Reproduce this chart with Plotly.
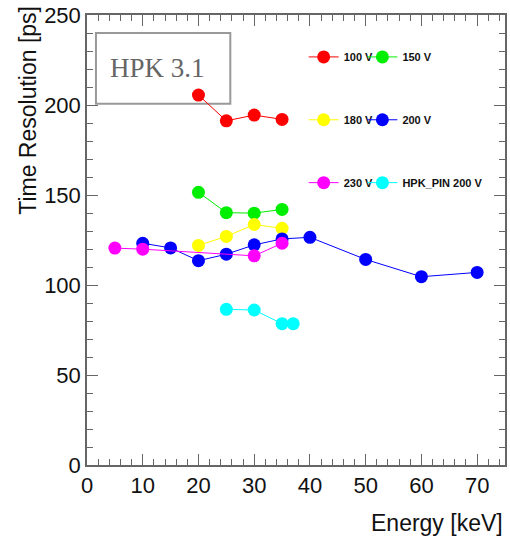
import plotly.graph_objects as go

# ---- data ----
e_100 = [20, 25, 30, 35]
t_100 = [205.5, 191.2, 194.4, 192.0]
e_150 = [20, 25, 30, 35]
t_150 = [151.5, 140.2, 139.9, 142.0]
e_180 = [20, 25, 30, 35]
t_180 = [122.0, 127.0, 133.6, 131.5]
e_200 = [10, 15, 20, 25, 30, 35, 40, 50, 60, 70]
t_200 = [123.2, 120.6, 113.5, 117.1, 122.3, 125.6, 126.5, 114.2, 104.6, 107.0]
e_230 = [5, 10, 30, 35]
t_230 = [120.5, 119.9, 116.2, 123.2]
e_pin = [25, 30, 35, 37]
t_pin = [86.5, 86.1, 78.5, 78.5]

names = ["100 V", "150 V", "180 V", "200 V", "230 V", "HPK_PIN 200 V"]
colors = ["#ff0000", "#00ee00", "#ffff00", "#0000ff", "#ff00ff", "#00ffff"]
xs = [e_100, e_150, e_180, e_200, e_230, e_pin]
ys = [t_100, t_150, t_180, t_200, t_230, t_pin]

L, R, T, B = 87, 3, 14, 75
W, H = 510, 540
pw = W - L - R
ph = H - T - B

def px2x(px):
    return (px - L) / pw

def py2y(py):
    return (H - B - py) / ph

# legend slot positions (marker centre in pixels): two columns, three rows
leg_cols = [322.7, 381.7]
leg_rows = [56, 119, 182]

fig = go.Figure()
layout_legends = {}
for i, (name, x, y, col) in enumerate(zip(names, xs, ys, colors)):
    key = "legend" if i == 0 else f"legend{i + 1}"
    fig.add_trace(go.Scatter(
        x=x, y=y, name=name, mode="lines+markers",
        line=dict(color=col, width=1),
        marker=dict(color=col, size=13, symbol="circle"),
        legend=key, showlegend=True,
    ))
    layout_legends[key] = dict(
        x=px2x(leg_cols[i % 2] - 18), y=py2y(leg_rows[i // 2]),
        xanchor="left", yanchor="middle", orientation="h",
        font=dict(family="Liberation Sans", size=11, color="#111", weight="bold"),
        bgcolor="rgba(0,0,0,0)", borderwidth=0,
    )

fig.update_layout(
    width=W, height=H,
    showlegend=True,
    margin=dict(l=L, r=R, t=T, b=B, pad=0),
    paper_bgcolor="white", plot_bgcolor="white",
    font=dict(family="Liberation Sans", color="black"),
    xaxis=dict(
        range=[0, 75], dtick=10, tick0=0, showgrid=False, zeroline=False,
        ticks="inside", ticklen=11, tickcolor="#666", tickwidth=1,
        mirror="allticks", showline=True, linecolor="#666", linewidth=1.5,
        tickfont=dict(size=22, color="#111"),
        minor=dict(dtick=2, ticks="inside", ticklen=6, tickcolor="#666", showgrid=False),
    ),
    yaxis=dict(
        range=[0, 250], dtick=50, tick0=0, showgrid=False, zeroline=False,
        ticks="inside", ticklen=11, tickcolor="#666", tickwidth=1,
        mirror="allticks", showline=True, linecolor="#666", linewidth=1.5,
        tickfont=dict(size=22, color="#111"),
        minor=dict(dtick=10, ticks="inside", ticklen=6, tickcolor="#666", showgrid=False),
    ),
    **layout_legends,
)

# title annotations (ROOT style: right / top aligned)
fig.add_annotation(
    text="Energy [keV]", xref="paper", yref="paper",
    x=1.0, y=py2y(523), xanchor="right", yanchor="middle", showarrow=False,
    font=dict(size=23, color="#111"),
)
fig.add_annotation(
    text="Time Resolution [ps]", xref="paper", yref="paper",
    x=px2x(27), y=py2y(3), xanchor="center", yanchor="top", textangle=-90, showarrow=False,
    font=dict(size=23, color="#111"),
)

# HPK 3.1 label box
fig.add_shape(
    type="rect", xref="paper", yref="paper",
    x0=px2x(96), x1=px2x(231), y0=py2y(103), y1=py2y(32),
    line=dict(color="#999", width=2), fillcolor="white", layer="below",
)
fig.add_annotation(
    text="HPK 3.1", xref="paper", yref="paper",
    x=px2x(158), y=py2y(67), xanchor="center", yanchor="middle", showarrow=False,
    font=dict(family="Liberation Serif", size=27, color="#666"),
)

fig.write_html("out.html")
